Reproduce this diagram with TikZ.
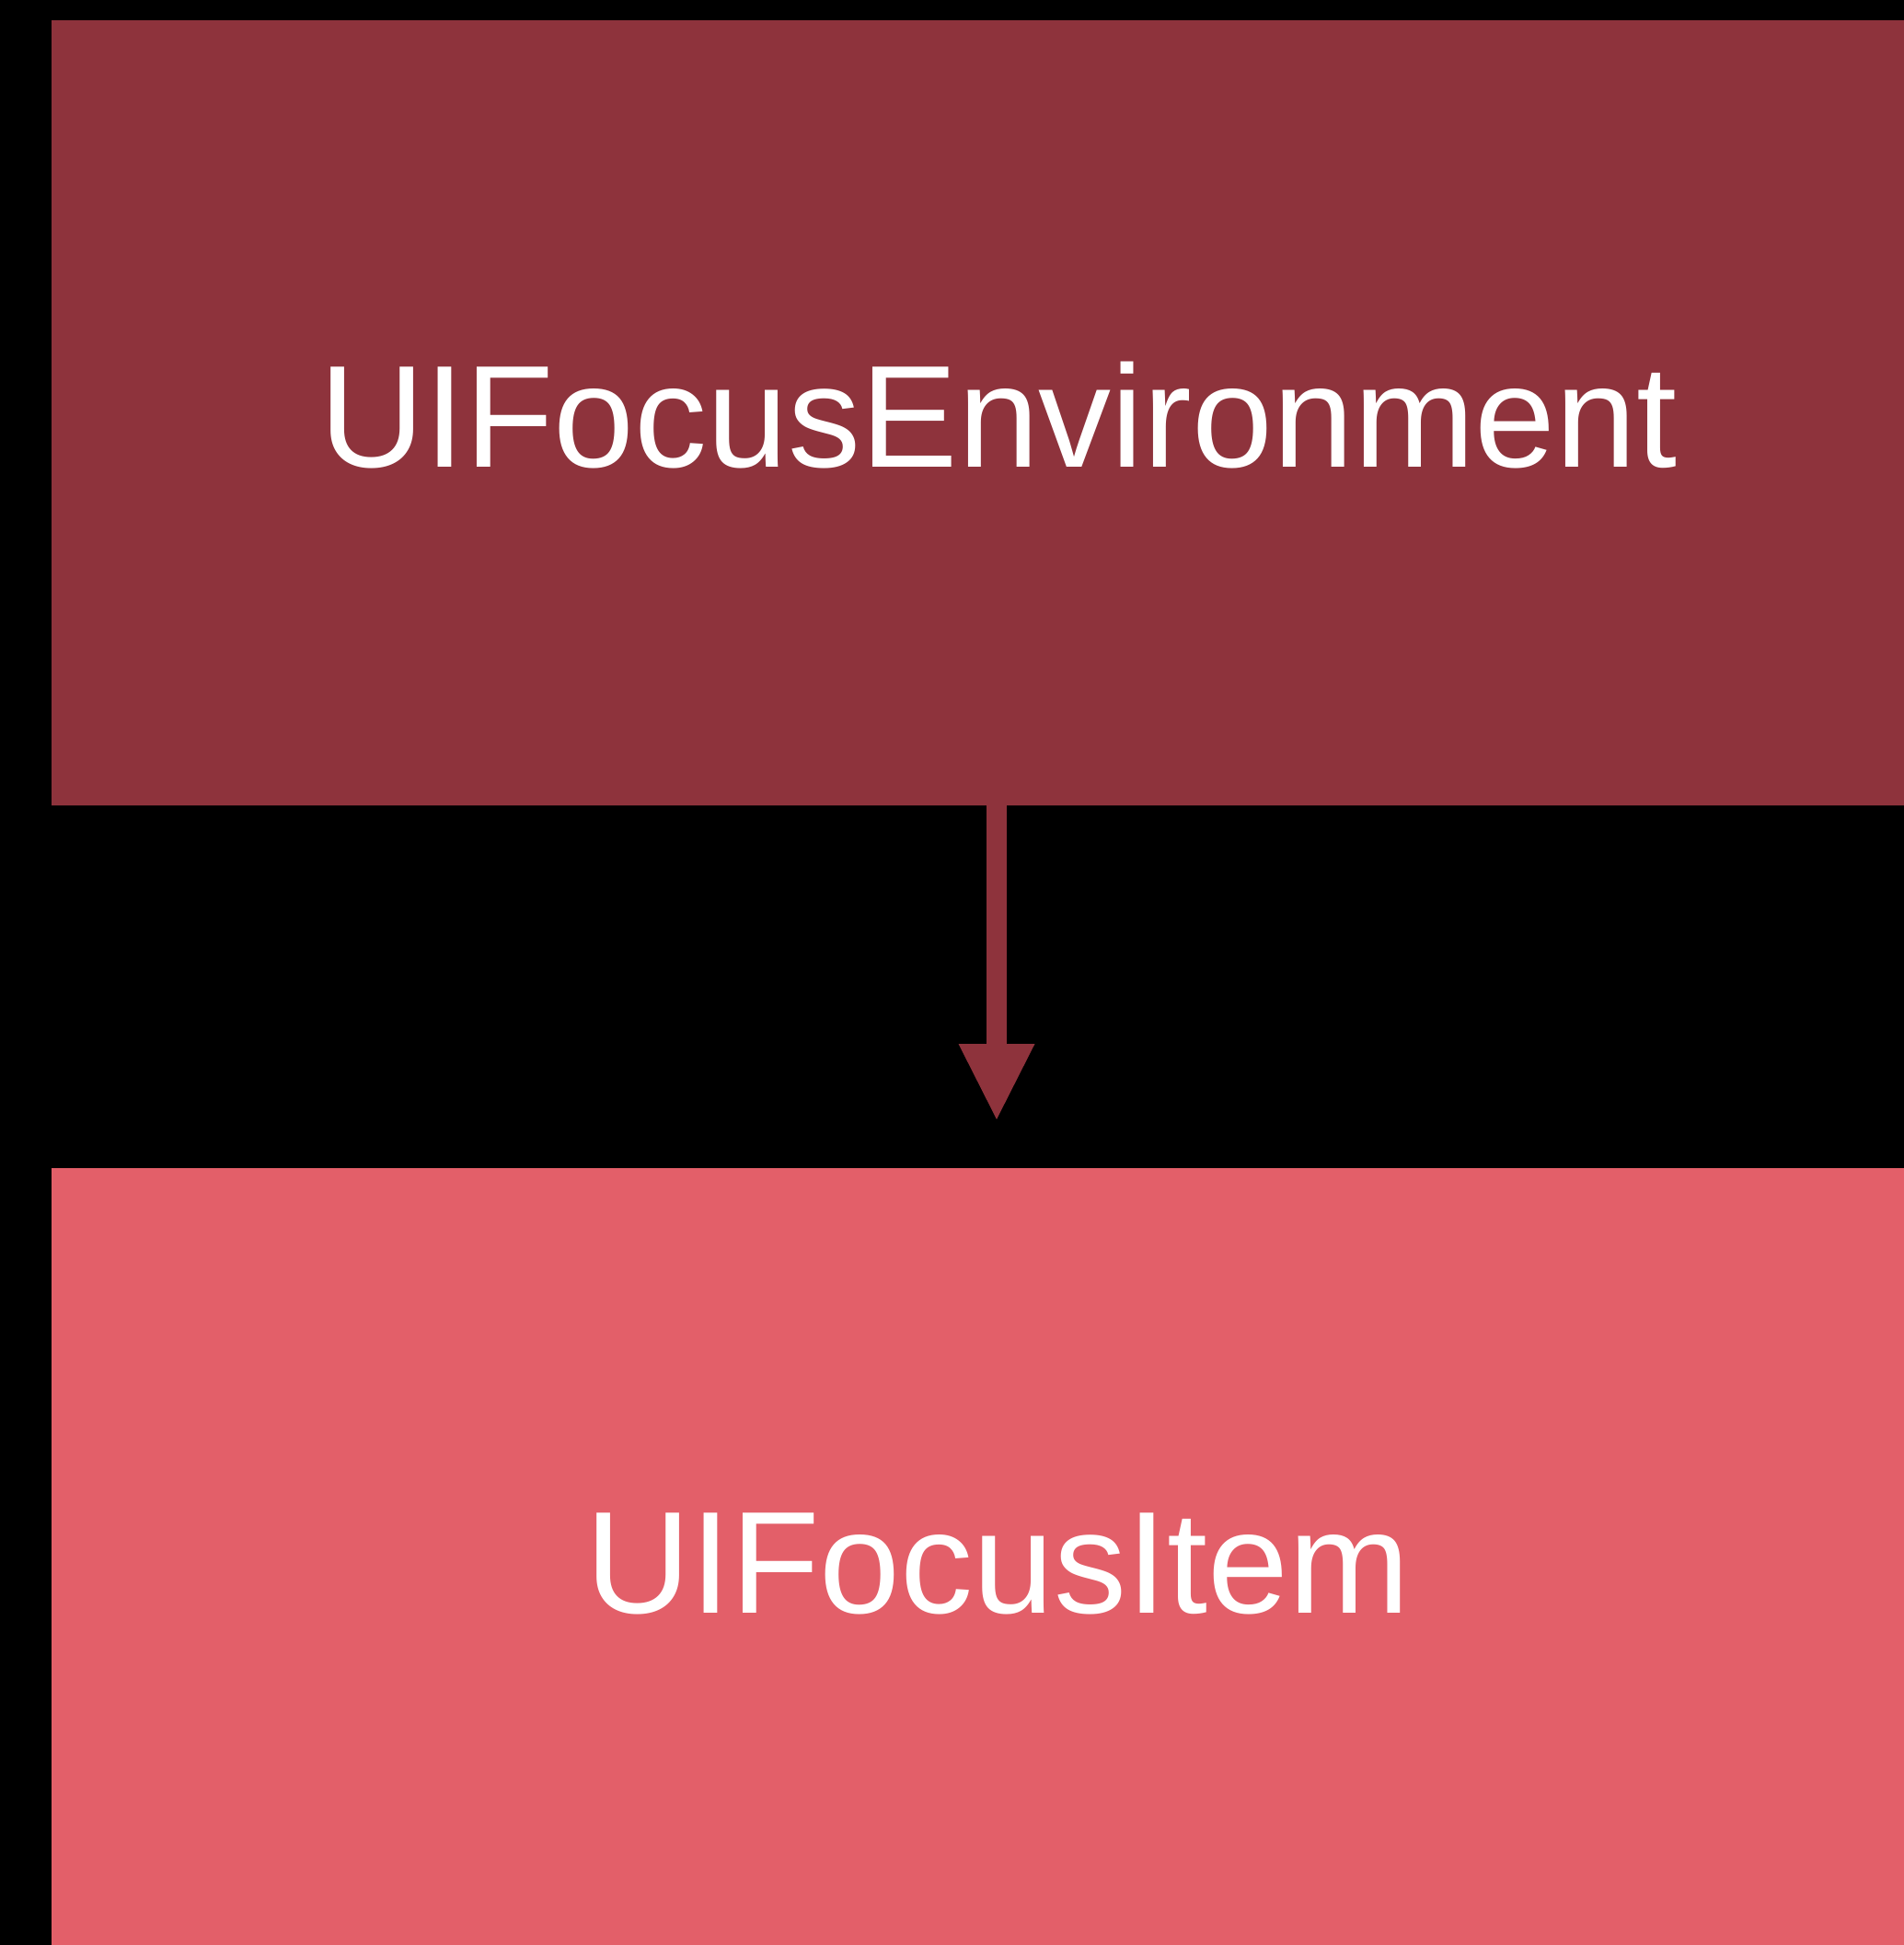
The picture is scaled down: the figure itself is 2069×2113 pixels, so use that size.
\documentclass[tikz,border=0pt]{standalone}
\usepackage{fontspec}
\setmainfont{Liberation Sans}
\definecolor{envred}{HTML}{8E333C}
\definecolor{itemred}{HTML}{E35F69}
\begin{document}
\begin{tikzpicture}[x=1pt,y=-1pt,
  label/.style={text=white,font=\fontsize{158}{160}\selectfont,anchor=base,inner sep=0pt}]
  \fill[black] (0,0) rectangle (2069,2113);
  \useasboundingbox (0,0) rectangle (2069,2113);
  % boxes
  \fill[envred] (56,22) rectangle (2069,875);
  \coordinate (envbottom) at (1083,875);
  \fill[itemred] (56,1269) rectangle (2069,2113);
  \node[label] (env) at (1085,507) {UIFocusEnvironment};
  \node[label] (item) at (1084,1752) {UIFocusItem};
  % connector
  \coordinate (headtop) at (1083,1134);
  \coordinate (tip) at (1083,1216);
  \draw[envred,line width=21.5pt] (envbottom) -- (headtop);
  \fill[envred] ([xshift=-41.5pt]headtop) -- ([xshift=41.5pt]headtop) -- (tip) -- cycle;
\end{tikzpicture}
\end{document}
